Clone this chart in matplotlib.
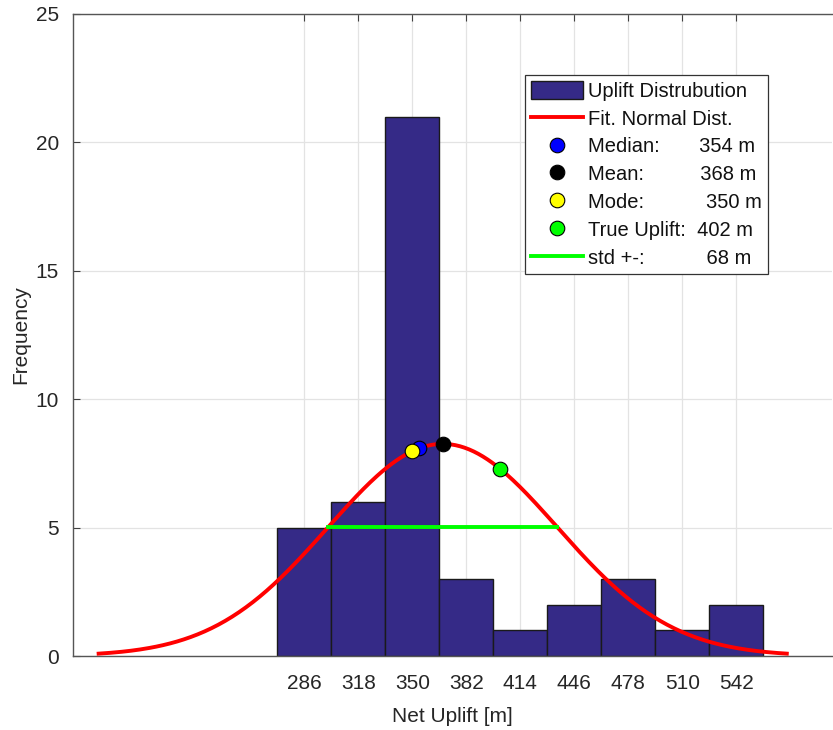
import numpy as np
import matplotlib.pyplot as plt

# histogram of net uplift
bin_centers = [286, 318, 350, 382, 414, 446, 478, 510, 542]
counts = [5, 6, 21, 3, 1, 2, 3, 1, 2]
bin_width = 32

# summary statistics (m)
median_val = 354
mean_val = 368
mode_val = 350
true_uplift = 402
std_val = 68


def main():
    plt.rcParams['font.family'] = ['Liberation Sans', 'DejaVu Sans']
    text_col = '#262626'

    fig = plt.figure(figsize=(8.33, 7.3), dpi=100)
    ax = fig.add_axes([73 / 833, 1 - 656 / 730, 759 / 833, 642 / 730])

    n_total = sum(counts)
    scale = n_total * bin_width

    def fit(x):
        return scale / (std_val * np.sqrt(2 * np.pi)) * np.exp(-0.5 * ((np.asarray(x) - mean_val) / std_val) ** 2)

    h_bar = ax.bar(bin_centers, counts, width=bin_width, color='#352A87', edgecolor='#1a1a1a',
                   linewidth=1.0, label='Uplift Distrubution', zorder=2)

    xs = np.linspace(mean_val - 3 * std_val, mean_val + 3 * std_val, 300)
    h_fit, = ax.plot(xs, fit(xs), color='#FF0000', lw=2.8, label='Fit. Normal Dist.', zorder=3)

    mk = dict(marker='o', markersize=10.5, markeredgecolor='black', markeredgewidth=0.8,
              linestyle='none', zorder=5)
    h_med, = ax.plot([median_val], fit([median_val]), markerfacecolor='#0000FF',
                     label=f'Median:       {median_val} m', **mk)
    h_mean, = ax.plot([mean_val], fit([mean_val]), markerfacecolor='black',
                      label=f'Mean:          {mean_val} m', **mk)
    h_mode, = ax.plot([mode_val], fit([mode_val]), markerfacecolor='#FFFF00',
                      label=f'Mode:           {mode_val} m', **mk)
    h_true, = ax.plot([true_uplift], fit([true_uplift]), markerfacecolor='#00FF00',
                      label=f'True Uplift:  {true_uplift} m', **mk)

    std_x = [mean_val - std_val, mean_val + std_val]
    std_y = fit(mean_val - std_val)
    h_std, = ax.plot(std_x, [std_y, std_y], color='#00FF00', lw=2.8,
                     label=f'std +-:           {std_val} m', zorder=4)

    ax.set_xlim(148.8, 598.8)
    ax.set_ylim(0, 25)
    ax.set_xticks(bin_centers)
    ax.set_yticks([0, 5, 10, 15, 20, 25])
    ax.grid(True, color='#e3e3e3', lw=0.9)
    ax.set_axisbelow(True)

    ax.tick_params(direction='in', top=True, length=5, width=0.8, labelsize=15,
                   colors='#404040', labelcolor=text_col)
    ax.tick_params(axis='x', pad=13)
    ax.tick_params(axis='y', pad=10)
    for side in ['left', 'bottom', 'top']:
        ax.spines[side].set_color('#555555')
        ax.spines[side].set_linewidth(1.0)
    ax.spines['right'].set_visible(False)

    ax.set_xlabel('Net Uplift [m]', fontsize=15, color=text_col, labelpad=10)
    ax.set_ylabel('Frequency', fontsize=15, color=text_col, labelpad=4)

    handles = [h_bar, h_fit, h_med, h_mean, h_mode, h_true, h_std]
    leg = ax.legend(handles=handles, loc='upper right', bbox_to_anchor=(0.9157, 0.905),
                    fontsize=14.5, frameon=True, fancybox=False, framealpha=1,
                    edgecolor='#333333', handlelength=2.6, handleheight=1.0,
                    handletextpad=0.25, labelspacing=0.39, borderpad=0.3,
                    borderaxespad=0)
    leg.get_frame().set_linewidth(0.9)
    for t in leg.get_texts():
        t.set_color('#111111')

    fig.savefig('out.png', dpi=100)
    plt.close(fig)


if __name__ == '__main__':
    main()
